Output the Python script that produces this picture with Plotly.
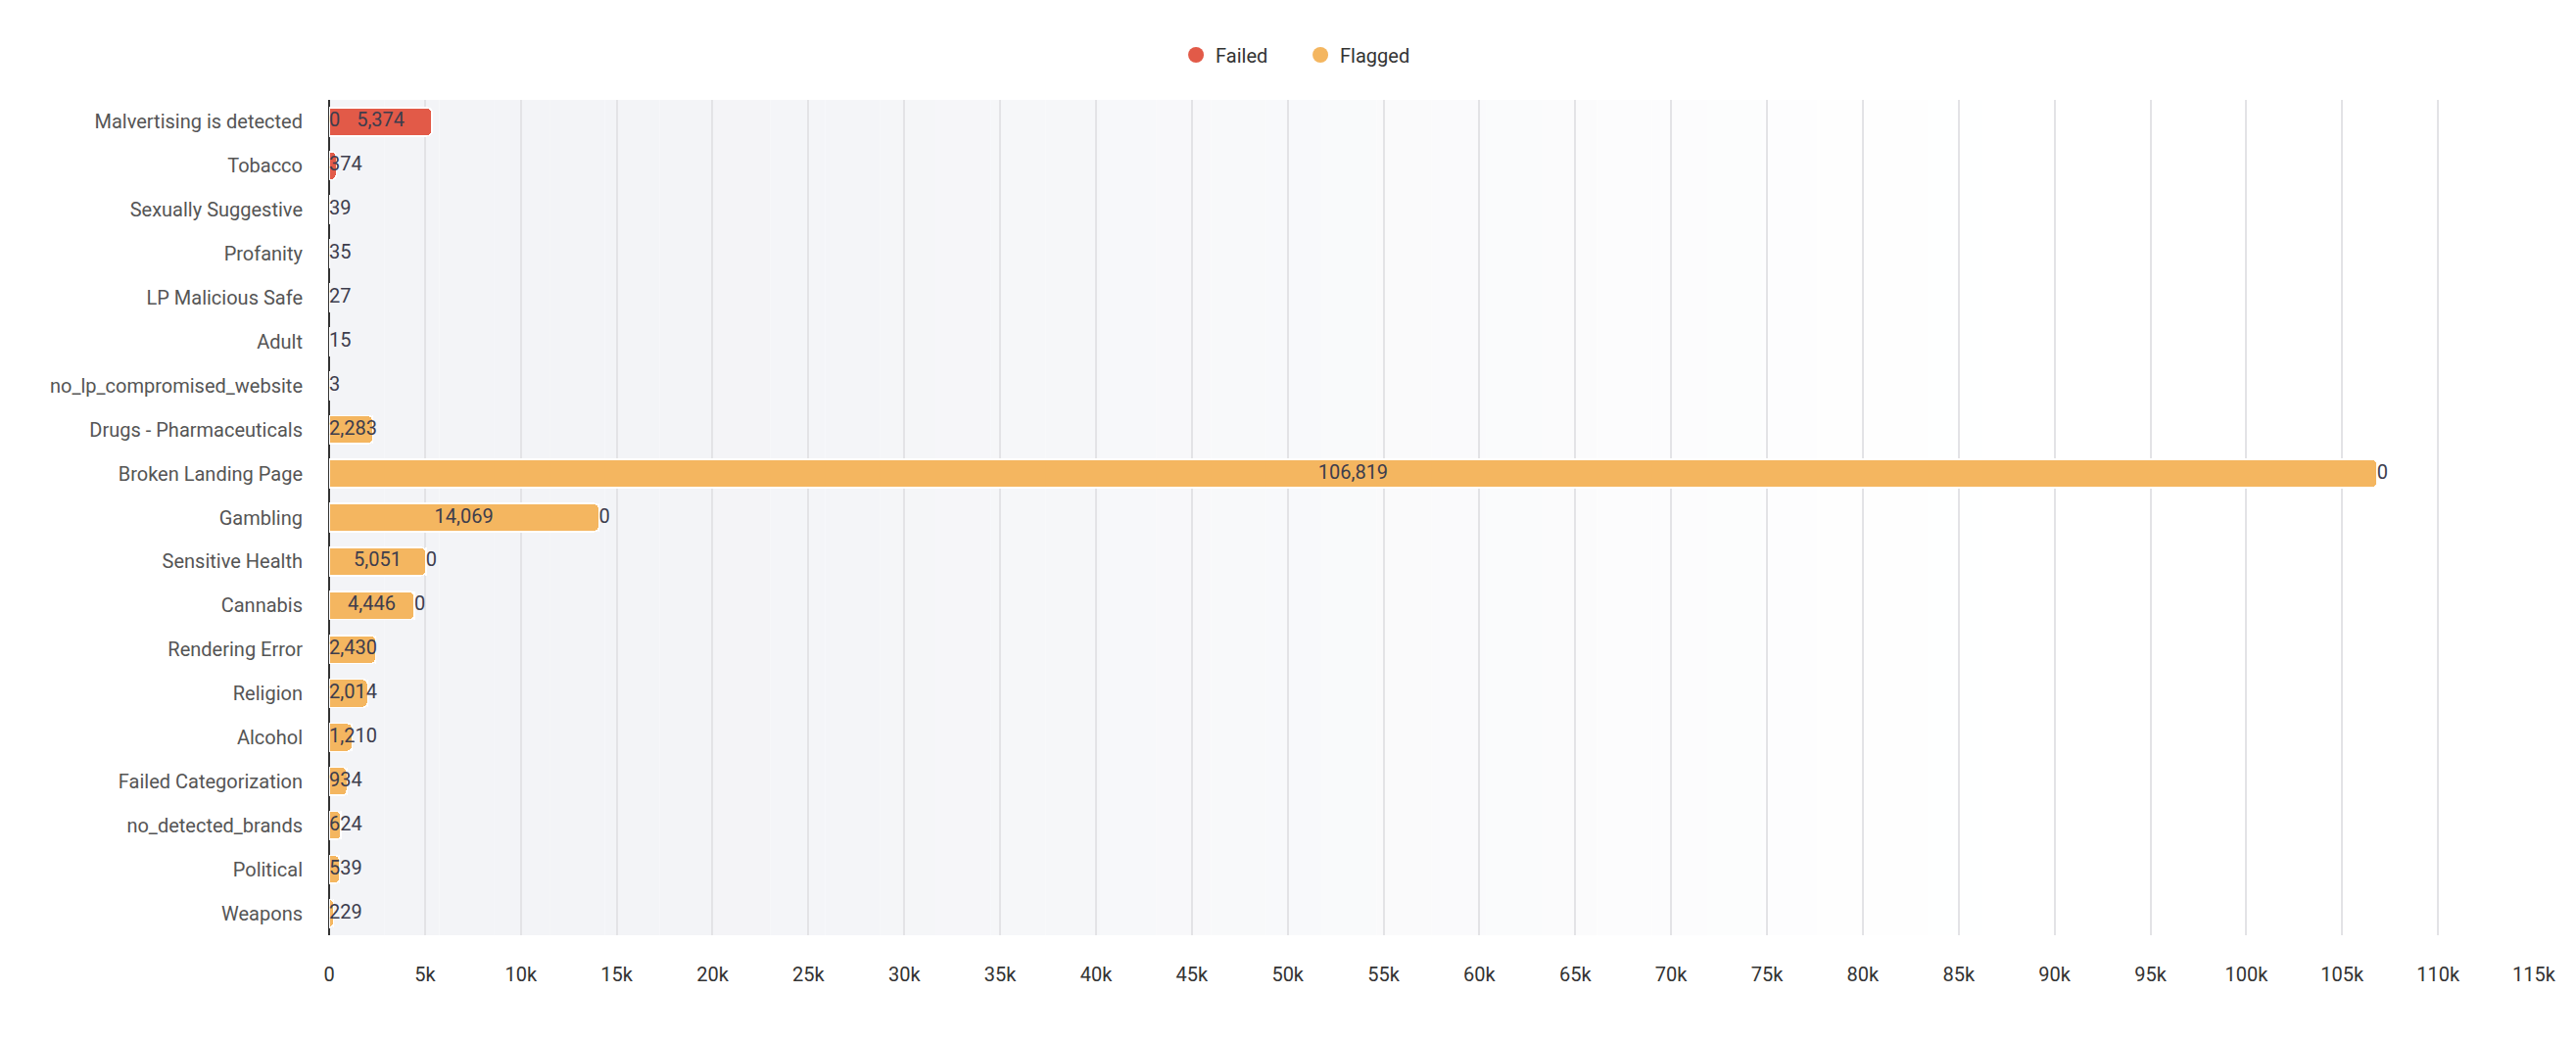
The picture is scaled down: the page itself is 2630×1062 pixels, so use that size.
import plotly.graph_objects as go

# categories top to bottom
categories = [
    "Malvertising is detected", "Tobacco", "Sexually Suggestive", "Profanity",
    "LP Malicious Safe", "Adult", "no_lp_compromised_website",
    "Drugs - Pharmaceuticals", "Broken Landing Page", "Gambling",
    "Sensitive Health", "Cannabis", "Rendering Error", "Religion", "Alcohol",
    "Failed Categorization", "no_detected_brands", "Political", "Weapons",
]
failed = [5374, 374, 39, 35, 27, 15, 3, 0, 0, 0, 0, 0, 0, 0, 0, 0, 0, 0, 0]
flagged = [0, 0, 0, 0, 0, 0, 0, 2283, 106819, 14069, 5051, 4446, 2430, 2014,
           1210, 934, 624, 539, 229]

x_ticks = list(range(0, 115001, 5000))
x_tick_labels = ["0"] + [f"{v // 1000}k" for v in x_ticks[1:]]

RED = "#E25A48"
ORANGE = "#F4B660"
TXT = "#3d3d4d"
FIT = 3000  # value above which the label fits inside the bar


def label_points(vals, starts, others):
    xs, texts, pos = [], [], []
    for v, s, o in zip(vals, starts, others):
        if v >= FIT:
            xs.append(s + v / 2)
            pos.append("middle center")
            texts.append(f"{v:,}")
        else:
            xs.append(s)
            pos.append("middle right")
            # zero labels only show when they don't collide with the other label
            if v == 0 and o < FIT:
                texts.append("")
            else:
                texts.append(f"{v:,}")
    return xs, texts, pos


fig = go.Figure()

# background fade (light grey -> white)
steps = 40
for i in range(steps):
    f = i / steps
    c0 = (243, 244, 247)
    k = min(max(f - 0.15, 0) / 0.6, 1.0)
    col = tuple(int(round(a + (255 - a) * k)) for a in c0)
    fig.add_shape(type="rect", xref="x domain", yref="y domain",
                  x0=f, x1=(i + 1) / steps, y0=0, y1=1,
                  fillcolor="rgb(%d,%d,%d)" % col, line_width=0, layer="below")

bar_style = dict(orientation="h", showlegend=False, hoverinfo="x+y",
                 marker_line=dict(color="white", width=1.5))
fig.add_trace(go.Bar(y=categories, x=flagged, name="Flagged",
                     marker_color=ORANGE, **bar_style))
fig.add_trace(go.Bar(y=categories, x=failed, name="Failed",
                     marker_color=RED, **bar_style))

fx, ft, fp = label_points(flagged, [0] * len(flagged), failed)
ax, at, ap = label_points(failed, flagged, flagged)
for xs, ts, ps in [(fx, ft, fp), (ax, at, ap)]:
    fig.add_trace(go.Scatter(y=categories, x=xs, text=ts, textposition=ps,
                             mode="text", showlegend=False, hoverinfo="skip",
                             textfont=dict(size=20, color=TXT, family="Roboto")))

# legend entries as circles
for name, col in [("Failed", RED), ("Flagged", ORANGE)]:
    fig.add_trace(go.Scatter(x=[None], y=[None], mode="markers", name=name,
                             marker=dict(color=col, size=20, symbol="circle")))

fig.update_layout(
    width=2614, height=1046,
    barmode="stack", bargap=0.36, barcornerradius=5,
    plot_bgcolor="white", paper_bgcolor="white",
    font=dict(family="Roboto", size=20, color="#333"),
    margin=dict(l=328, r=28, t=94, b=99),
    legend=dict(orientation="h", xref="container", x=0.505, xanchor="center",
                yref="container", y=1 - 48 / 1046, yanchor="middle",
                traceorder="normal", entrywidth=82, entrywidthmode="pixels",
                font=dict(size=20, color="#333")),
)
fig.update_xaxes(range=[0, 115000], tickvals=x_ticks, ticktext=x_tick_labels,
                 showgrid=True, gridcolor="#e3e3e6", gridwidth=2,
                 zeroline=True, zerolinecolor="#333", zerolinewidth=2,
                 ticklabelstandoff=26, tickfont=dict(size=20, color="#333"))
fig.update_yaxes(categoryorder="array", categoryarray=categories,
                 range=[len(categories) - 0.5, -0.5], showgrid=False,
                 ticklabelstandoff=26, tickfont=dict(size=20, color="#555"))

fig.write_html("out.html")
